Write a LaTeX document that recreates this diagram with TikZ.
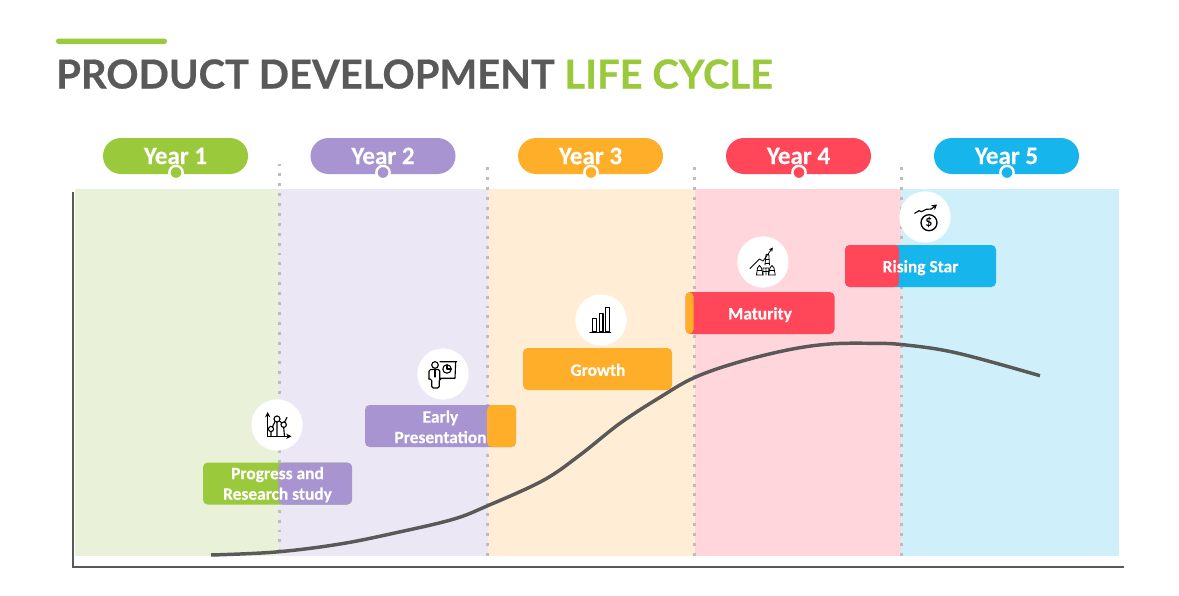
\documentclass[tikz,border=0pt]{standalone}
\usepackage{fontspec}
\usetikzlibrary{arrows.meta}
\setmainfont{Lato}
\newfontfamily\titlefont[BoldFeatures={FakeBold=0.5}]{Lato}
\newfontfamily\labelfont[BoldFeatures={FakeBold=0.25}]{Carlito}
\definecolor{cgreen}{HTML}{9ACA3C}
\definecolor{cpurple}{HTML}{A794D0}
\definecolor{corange}{HTML}{FFAE29}
\definecolor{cred}{HTML}{FF4759}
\definecolor{cblue}{HTML}{16B5EC}
\definecolor{pgreen}{HTML}{E9F2D9}
\definecolor{ppurple}{HTML}{EBE7F4}
\definecolor{porange}{HTML}{FFEDD6}
\definecolor{pred}{HTML}{FFD6DC}
\definecolor{pblue}{HTML}{CFF0FB}
\definecolor{ink}{HTML}{595959}
\definecolor{dotgrey}{HTML}{BDBDBD}
\tikzset{
  panel/.style={fill=#1,draw=none},
  sep/.style={dotgrey,line width=2.25pt,dash pattern=on 2.2pt off 5.22pt},
  axisline/.style={ink,line width=1.6pt},
  curveline/.style={ink,line width=2.6pt},
  pill/.style={fill=#1,rounded corners=13.5pt,minimum width=108.75pt,minimum height=27pt,inner sep=0pt,text=white,font=\labelfont\bfseries\fontsize{18.8}{19}\selectfont},
  yeardot/.style={circle,fill=#1,draw=white,line width=1.8pt,minimum size=10pt,inner sep=0pt},
  iconbg/.style={circle,fill=white,minimum size=38.5pt,inner sep=0pt},
  boxbase/.style={rounded corners=3.5pt,fill=#1,minimum width=111.75pt,minimum height=31.5pt,inner sep=0pt},
  rightpart/.style args={#1/#2}{path picture={\fill[#1] ([xshift=#2]path picture bounding box.south west) rectangle (path picture bounding box.north east);}},
  leftpart/.style args={#1/#2}{path picture={\fill[#1] (path picture bounding box.south west) rectangle ([xshift=#2]path picture bounding box.north west);}},
  boxtext/.style={text=white,align=center,font=\labelfont\bfseries\fontsize{13.05}{15.4}\selectfont},
  icon/.style={black,line width=.85pt,line join=round,line cap=round},
  thinicon/.style={black,line width=.6pt,line join=round,line cap=round}
}
\begin{document}
\begin{tikzpicture}[x=.75pt,y=-.75pt]
\useasboundingbox (0,0) rectangle (1179,596);
% title
\fill[cgreen,rounded corners=2pt] (56,38.5) rectangle (167,44);
\node[anchor=base west,inner sep=0pt,font=\titlefont\bfseries\fontsize{29.95}{32}\selectfont,text=ink] (title) at (56,88.5)
  {PRODUCT DEVELOPMENT \textcolor{cgreen}{LIFE CYCLE}};
% panels
\fill[panel=pgreen] (75,189) rectangle (279,556);
\fill[panel=ppurple] (279,189) rectangle (488,556);
\fill[panel=porange] (488,189) rectangle (695,556);
\fill[panel=pred] (695,189) rectangle (901,556);
\fill[panel=pblue] (901,189) rectangle (1119,556);
% separators
\draw[sep] (279,163.5) -- (279,556);
\draw[sep] (487.5,167) -- (487.5,556);
\draw[sep] (694.5,167) -- (694.5,556);
\draw[sep] (901,167) -- (901,556);
% axes
\draw[axisline] (73,192) -- (73,567) -- (1124,567);
% year pills
\node[pill=cgreen] (y1) at (175.5,156) {\raisebox{-.7pt}{Year 1}};
\node[pill=cpurple] (y2) at (383,156) {\raisebox{-.7pt}{Year 2}};
\node[pill=corange] (y3) at (590.5,156) {\raisebox{-.7pt}{Year 3}};
\node[pill=cred] (y4) at (798.5,156) {\raisebox{-.7pt}{Year 4}};
\node[pill=cblue] (y5) at (1006.5,156) {\raisebox{-.7pt}{Year 5}};
\node[yeardot=cgreen] (d1) at (176,172.5) {};
\node[yeardot=cpurple] (d2) at (383,172.5) {};
\node[yeardot=corange] (d3) at (591,172.5) {};
\node[yeardot=cred] (d4) at (799,172.5) {};
\node[yeardot=cblue] (d5) at (1007,172.5) {};
% icon discs
\node[iconbg] (c1) at (277,425) {};
\node[iconbg] (c2) at (443,374) {};
\node[iconbg] (c3) at (601,320) {};
\node[iconbg] (c4) at (763,262) {};
\node[iconbg] (c5) at (925,217) {};
% boxes
\node[boxbase=cgreen,rightpart=cpurple/56.5pt] (b1) at (277.5,483.5) {};
\node[boxbase=cpurple,minimum width=113.25pt,rightpart=corange/91.6pt] (b2) at (440.5,426) {};
\node[boxbase=corange] (b3) at (597.5,369) {};
\node[boxbase=cred,leftpart=corange/6pt] (b4) at (760,313) {};
\node[boxbase=cblue,minimum width=113.25pt,leftpart=cred/40.5pt] (b5) at (920.5,266) {};
\node[boxtext] (t1) at (277.5,484.7) {Progress and\\Research study};
\node[boxtext] (t2) at (440.5,426.8) {Early\\Presentation};
\node[boxtext] (t3) at (598,369.8) {Growth};
\node[boxtext] (t4) at (760,314.7) {Maturity};
\node[boxtext] (t5) at (920.5,267.7) {Rising Star};
% curve
\draw[curveline] plot[smooth,tension=.6] coordinates {(211,555) (276,552) (340,544) (397,532.5) (453,519.3) (487,506) (543,480.5) (580,455) (620,423.3) (660,397.3) (695,377.3) (740,361.7) (790,349.5) (830,344) (870,343.3) (903,344.7) (957,353) (1040,375.7)};
% icon 1: chart with pins
\begin{scope}[shift={(c1)}]
\draw[icon,-{Stealth[length=4pt,width=4pt]}] (-9.3,11.3) -- (-9.3,-13);
\draw[icon,-{Stealth[length=4pt,width=4pt]}] (-9.3,11.3) -- (14.5,11.3);
\draw[icon] (-6,6.5) -- (-6,11.3) (0,-3) -- (0,11.3) (6.7,2.5) -- (7.5,11.3);
\draw[icon] (-6,4) circle (2.6) (0,-6) circle (3) (6.7,-.3) circle (2.7);
\draw[icon] (-4.5,1.8) -- (-2,-3.5) (2.3,-4.2) -- (4.8,-2) (7.5,-2.8) -- (10,-7.5);
\end{scope}
% icon 2: presenter
\begin{scope}[shift={(c2)}]
\draw[icon] (-8,-9) circle (3.3);
\draw[icon,rounded corners=1.2pt] (-14,5) -- (-14,-4.5) -- (-3.2,-4.5) -- (-3.2,5);
\draw[icon,rounded corners=1.2pt] (-14,5) -- (-11.3,5) -- (-11.3,14) -- (-3.7,14) -- (-3.7,5) -- (-3.2,5);
\draw[icon] (-8,-4.5) -- (-8,3);
\draw[icon] (-3,-12.3) -- (13.7,-12.3) (12.7,-12.3) -- (12,4.3) -- (-2.5,4.3);
\draw[icon] (4,-5) circle (4.2);
\draw[icon] (4,-9.2) -- (4,-5) -- (8.2,-5);
\end{scope}
% icon 3: bars
\begin{scope}[shift={(c3)}]
\draw[icon] (-8.3,12) rectangle (-4.3,-1.7) (-1.7,12) rectangle (2,-6.7) (4.3,12) rectangle (8.3,-12.7);
\draw[icon] (-11,12.2) -- (9.7,12.2);
\end{scope}
% icon 4: rising chart on stacks
\begin{scope}[shift={(c4)}]
\draw[thinicon,-{Stealth[length=3pt,width=3pt]}] (-13,6.5) -- (-3.5,-3) -- (0,-1) -- (9.8,-14.5);
\draw[thinicon] (-6.5,13) -- (-5.5,6) -- (-3.5,3.5) -- (-1.5,6) -- (0,13) -- cycle;
\draw[thinicon] (5.5,13) -- (7,6) -- (9,3.5) -- (11,6) -- (12.2,13) -- cycle;
\draw[thinicon] (0,13) -- (0,6) -- (6,6) -- (5.5,13) (.2,9.5) -- (5.8,9.5) (3,6) -- (3,13);
\draw[thinicon] (-5.8,8) -- (-1.5,8) (6.5,8) -- (11,8);
\draw[thinicon] (2,3) -- (3,-7.5) -- (5.8,-7.5) -- (6.5,3);
\draw[thinicon] (2.7,-3) -- (6,-3) (2.3,1) -- (6.4,1);
\end{scope}
% icon 5: coin and trend
\begin{scope}[shift={(c5)}]
\draw[icon,-{Stealth[length=4pt,width=4.5pt]}] (-10.3,-3.7) -- (-6,-6.3) -- (-3.7,-5.3) -- (1.3,-7.7) -- (6.3,-8) -- (12,-12.5);
\draw[icon,line width=1pt] (4,5.7) circle (8);
\node[inner sep=0pt,text=black,font=\bfseries\fontsize{8.5}{8.5}\selectfont] (usd) at (4,5.7) {\$};
\end{scope}
\end{tikzpicture}
\end{document}
